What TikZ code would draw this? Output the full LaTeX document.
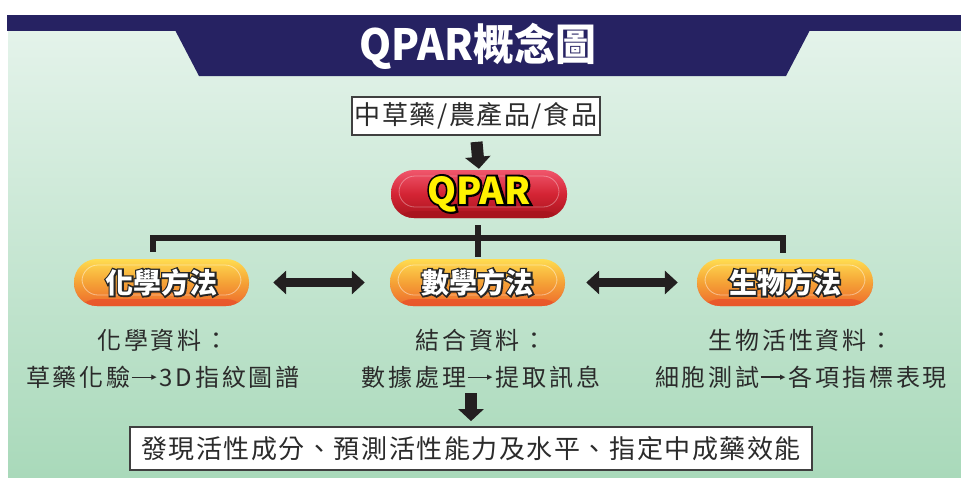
\documentclass[tikz,border=0pt]{standalone}
\usepackage{fontspec}
\usetikzlibrary{arrows.meta}
\setmainfont{Noto Sans CJK TC}
\newfontfamily\cjk{Noto Sans CJK TC}
\newfontfamily\cjkblack{Noto Sans CJK TC Black}
\newfontfamily\cjkblackol{Noto Sans CJK TC Black}[FakeBold=11]
\newfontfamily\cjkbody{Noto Sans CJK TC}[LetterSpace=12]
\newfontfamily\cjkbox{Noto Sans CJK TC}[LetterSpace=6]
\newfontfamily\dejavu{DejaVu Sans}
\definecolor{navy}{HTML}{262262}
\definecolor{txt}{HTML}{2B2B2B}
\definecolor{ink}{HTML}{231F20}
\definecolor{gTop}{HTML}{E6F4EC}
\definecolor{gBot}{HTML}{A9D9BA}
\definecolor{oTop}{HTML}{FFDC50}
\definecolor{oMid}{HTML}{F5A236}
\definecolor{oBot}{HTML}{EE6A2C}
\definecolor{oLip}{HTML}{E8502A}
\definecolor{rTop}{HTML}{F0566C}
\definecolor{rMid}{HTML}{D42434}
\definecolor{rBot}{HTML}{A8141E}
\definecolor{qyel}{HTML}{FFF200}
\newcommand{\outl}[2]{\rlap{\cjkblackol\color{#1}#2}#2}
\newcommand{\lgarrow}{\hspace{1pt}\rule[8.4pt]{21pt}{1.2pt}\kern-1.5pt\raisebox{6.2pt}{\dejavu\fontsize{7}{7}\selectfont ▶}\hspace{3pt}}
\tikzset{
  pillbase/.style={rectangle, rounded corners=23pt, minimum height=47pt, inner sep=0pt,
    font=\cjkblack\fontsize{28}{28}\selectfont, text=white},
  orangepill/.style={pillbase, minimum width=175pt,
    top color=oTop, bottom color=oBot, middle color=oMid,
    path picture={
      \fill[oLip, opacity=.75] (path picture bounding box.south west) rectangle ([yshift=7pt]path picture bounding box.south east);
      \draw[white, opacity=.45, line width=.8pt, rounded corners=16pt]
        ([xshift=8pt,yshift=-6pt]path picture bounding box.north west) rectangle ([xshift=-8pt,yshift=11pt]path picture bounding box.south east);
    }},
  redpill/.style={pillbase, minimum width=176pt, minimum height=48pt,
    top color=rTop, bottom color=rBot, middle color=rMid,
    font=\cjkblack\fontsize{37}{37}\selectfont, text=qyel,
    path picture={
      \fill[rBot, opacity=.8] (path picture bounding box.south west) rectangle ([yshift=7pt]path picture bounding box.south east);
      \draw[white, opacity=.35, line width=.8pt, rounded corners=16pt]
        ([xshift=8pt,yshift=-6pt]path picture bounding box.north west) rectangle ([xshift=-8pt,yshift=11pt]path picture bounding box.south east);
    }},
  textbox/.style={rectangle, draw=black!75, line width=1.8pt, fill=white, inner sep=0pt,
    text=txt, font=\cjkbox\fontsize{26}{26}\selectfont},
  bodytext/.style={align=center, inner sep=0pt, text=txt,
    font=\cjkbody\fontsize{24}{37}\selectfont},
  blockarrow/.style={ink, line width=12pt, -{Triangle[width=25pt,length=12pt]}},
  dblarrow/.style={ink, line width=9pt, {Triangle[width=23pt,length=13pt]}-{Triangle[width=23pt,length=13pt]}},
  conn/.style={ink, line width=6pt, line cap=butt, line join=miter},
}
\begin{document}
\begin{tikzpicture}[x=1pt,y=-1pt]
\useasboundingbox (0,0) rectangle (961,477);
\fill[white] (0,0) rectangle (961,477);
\shade[top color=gTop, bottom color=gBot] (8,15) rectangle (961,477);
% title band
\fill[navy] (7,15) rectangle (961,31);
\fill[navy] (175,30) -- (810,30) -- (786,76) -- (199,76) -- cycle;
\node[text=white, font=\cjkblack\fontsize{43}{43}\selectfont, xscale=0.95] (title) at (478,46) {QPAR概念圖};
% nodes
\node[textbox, minimum width=248pt, minimum height=38pt] (src) at (476,116) {中草藥/農產品/食品};
\node[redpill] (qpar) at (479,194) {\outl{black}{QPAR}};
\node[orangepill] (chem) at (161.5,282.5) {\outl{black!85}{化學方法}};
\node[orangepill] (math) at (477.5,282.5) {\outl{black!85}{數學方法}};
\node[orangepill, minimum width=176pt] (bio) at (785,282.5) {\outl{black!85}{生物方法}};
\node[bodytext] (chemtxt) at (163,358.5) {化學資料：\\草藥化驗\lgarrow 3D指紋圖譜};
\node[bodytext] (mathtxt) at (481,358.5) {結合資料：\\數據處理\lgarrow 提取訊息};
\node[bodytext] (biotxt) at (801,358.5) {生物活性資料：\\細胞測試\lgarrow 各項指標表現};
\node[textbox, minimum width=682pt, minimum height=43pt] (result) at (471,448.5) {發現活性成分、預測活性能力及水平、指定中成藥效能};
% connectors
\draw[blockarrow, shorten <=6pt, shorten >=1pt] (src.south) -- (qpar.north);
\coordinate (hl) at (153,238);
\coordinate (hr) at (783,238);
\draw[conn, shorten <=7pt, shorten >=6pt] (chem.north -| hl) -- (hl) -- (hr) -- (bio.north -| hr);
\draw[conn, shorten <=7pt, shorten >=2pt] (qpar.south -| math.north) -- (math.north);
\draw[dblarrow, shorten <=24pt, shorten >=25pt] (chem.east) -- (math.west);
\draw[dblarrow, shorten <=21pt, shorten >=19pt] (math.east) -- (bio.west);
\draw[blockarrow, shorten <=5pt, shorten >=5pt] (mathtxt.south -| result.north) -- (result.north);
\end{tikzpicture}
\end{document}
